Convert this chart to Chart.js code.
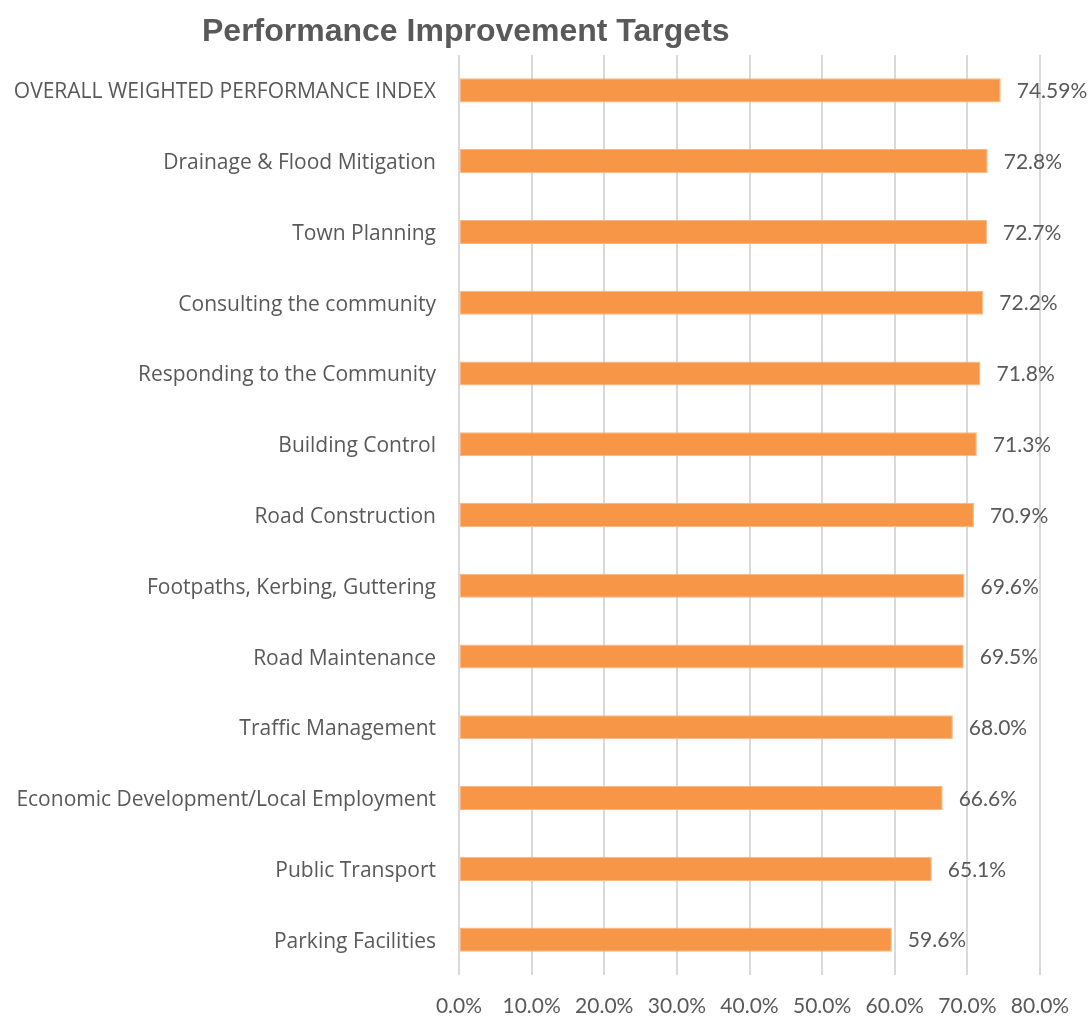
<!DOCTYPE html>
<html>
<head>
<meta charset="utf-8">
<script src="https://cdn.jsdelivr.net/npm/chart.js@4.4.1/dist/chart.umd.min.js"></script>
<style>
  html, body { margin: 0; padding: 0; background: #fff; }
  #wrap { position: relative; width: 1092px; height: 1016px; }
  #title {
    position: absolute; left: 202px; top: 11px; margin: 0;
    font: bold 32px "Liberation Sans", Arial, sans-serif; color: #595959;
    white-space: nowrap; line-height: 38px;
  }
</style>
</head>
<body>
<div id="wrap">
  <h1 id="title">Performance Improvement Targets</h1>
  <canvas id="chart" width="1092" height="1016"></canvas>
</div>
<script>
// Service areas, top to bottom
const categories = [
  "OVERALL WEIGHTED PERFORMANCE INDEX",
  "Drainage & Flood Mitigation",
  "Town Planning",
  "Consulting the community",
  "Responding to the Community",
  "Building Control",
  "Road Construction",
  "Footpaths, Kerbing, Guttering",
  "Road Maintenance",
  "Traffic Management",
  "Economic Development/Local Employment",
  "Public Transport",
  "Parking Facilities"
];
// Target scores (%)
const targets = [74.59, 72.8, 72.7, 72.2, 71.8, 71.3, 70.9, 69.6, 69.5, 68.0, 66.6, 65.1, 59.6];
// Decimal places shown on each value label
const labelDecimals = [2, 1, 1, 1, 1, 1, 1, 1, 1, 1, 1, 1, 1];
// Axis ticks (%)
const axisTicks = [0, 10, 20, 30, 40, 50, 60, 70, 80];

const FONT = "Lato, 'Open Sans', sans-serif";
const CAT_FONT = "'Open Sans', Lato, sans-serif";
const TEXT = "#595959";

// Writes each bar's value just past its end
const valueLabels = {
  id: "valueLabels",
  afterDatasetsDraw(chart) {
    const ctx = chart.ctx;
    const meta = chart.getDatasetMeta(0);
    ctx.save();
    ctx.font = "21px " + FONT;
    ctx.fillStyle = TEXT;
    ctx.textAlign = "left";
    ctx.textBaseline = "middle";
    meta.data.forEach((bar, i) => {
      const txt = targets[i].toFixed(labelDecimals[i]) + "%";
      ctx.fillText(txt, bar.x + 16, bar.y + 1);
    });
    ctx.restore();
  }
};

new Chart(document.getElementById("chart"), {
  type: "bar",
  data: {
    labels: categories,
    datasets: [{
      data: targets,
      backgroundColor: "#F79646",
      borderColor: "#F9B784",
      borderWidth: 1,
      borderSkipped: false,
      categoryPercentage: 1,
      barPercentage: 0.34
    }]
  },
  options: {
    indexAxis: "y",
    responsive: false,
    animation: false,
    layout: { padding: { top: 55, right: 52, bottom: 0, left: 0 } },
    plugins: {
      legend: { display: false },
      tooltip: { enabled: false }
    },
    scales: {
      x: {
        min: 0, max: 80,
        afterBuildTicks(scale) { scale.ticks = axisTicks.map(v => ({ value: v })); },
        afterFit(scale) { scale.height = 41; },
        grid: { color: "#D9D9D9", lineWidth: 2, drawTicks: false },
        border: { display: false },
        ticks: {
          padding: 19,
          color: TEXT,
          font: { family: FONT, size: 21 },
          callback: v => v.toFixed(1) + "%"
        }
      },
      y: {
        afterFit(scale) { scale.width = 459; },
        grid: { display: false, drawTicks: false },
        border: { display: false },
        ticks: {
          padding: 23,
          labelOffset: 2,
          color: TEXT,
          font: { family: CAT_FONT, size: 21 }
        }
      }
    }
  },
  plugins: [valueLabels]
});
</script>
</body>
</html>
